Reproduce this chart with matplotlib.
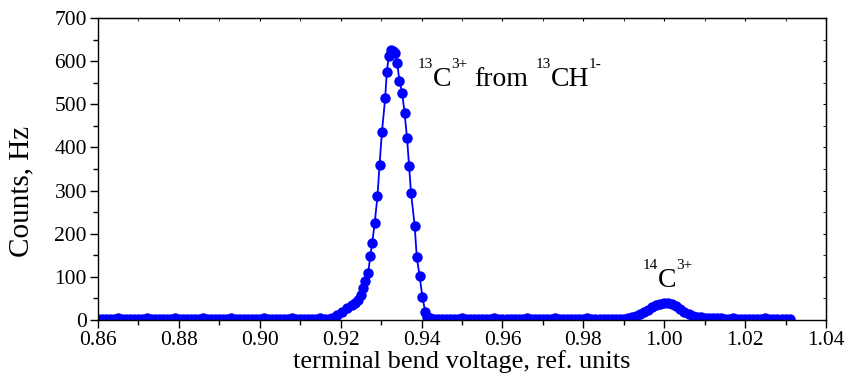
import matplotlib
matplotlib.use("Agg")
import matplotlib.pyplot as plt
import matplotlib.transforms as mtransforms
from matplotlib.ticker import MultipleLocator

plt.rcParams['font.family'] = ['Liberation Serif', 'DejaVu Serif']

# ---- data ----
base_left_x = [0.860, 0.861, 0.862, 0.863, 0.864, 0.865, 0.866, 0.867, 0.868, 0.869,
               0.870, 0.871, 0.872, 0.873, 0.874, 0.875, 0.876, 0.877, 0.878, 0.879,
               0.880, 0.881, 0.882, 0.883, 0.884, 0.885, 0.886, 0.887, 0.888, 0.889,
               0.890, 0.891, 0.892, 0.893, 0.894, 0.895, 0.896, 0.897, 0.898, 0.899,
               0.900, 0.901, 0.902, 0.903, 0.904, 0.905, 0.906, 0.907, 0.908, 0.909,
               0.910, 0.911, 0.912, 0.913, 0.914, 0.915, 0.916, 0.917]
base_left_y = [3, 3, 2, 3, 3, 4, 3, 3, 2, 3,
               3, 3, 4, 3, 2, 3, 3, 3, 3, 4,
               3, 2, 3, 3, 3, 3, 4, 3, 3, 2,
               3, 3, 3, 4, 3, 3, 2, 3, 3, 3,
               3, 4, 3, 3, 2, 3, 3, 3, 4, 3,
               3, 3, 3, 2, 3, 4, 3, 3]

peak13_x = [0.9178, 0.9190, 0.9203, 0.9215, 0.9227, 0.9236, 0.9244, 0.9250, 0.9256,
            0.9260, 0.9268, 0.9273, 0.9278, 0.9284, 0.9291, 0.9296, 0.9302, 0.9310,
            0.9314, 0.9319, 0.9325, 0.9329, 0.9334, 0.9340, 0.9345, 0.9352, 0.9358,
            0.9364, 0.9369, 0.9374, 0.9383, 0.9388, 0.9395, 0.9402, 0.9409, 0.9413,
            0.9418]
peak13_y = [4, 12, 19, 27, 35, 39, 46, 58, 73,
            91, 108, 148, 178, 224, 287, 359, 436, 514,
            575, 613, 627, 624, 620, 595, 555, 527, 479,
            423, 357, 294, 218, 147, 102, 54, 19, 8,
            5]

base_mid_x = [0.942, 0.943, 0.944, 0.945, 0.946, 0.947, 0.948, 0.949, 0.950, 0.951,
              0.952, 0.953, 0.954, 0.955, 0.956, 0.957, 0.958, 0.959, 0.960, 0.961,
              0.962, 0.963, 0.964, 0.965, 0.966, 0.967, 0.968, 0.969, 0.970, 0.971,
              0.972, 0.973, 0.974, 0.975, 0.976, 0.977, 0.978, 0.979, 0.980, 0.981,
              0.982, 0.983, 0.984, 0.985, 0.986, 0.987, 0.988, 0.989]
base_mid_y = [4, 3, 3, 3, 2, 3, 3, 3, 4, 3,
              3, 2, 3, 3, 3, 3, 4, 3, 3, 2,
              3, 3, 3, 3, 4, 3, 2, 3, 3, 3,
              3, 4, 3, 3, 2, 3, 3, 3, 3, 4,
              3, 3, 2, 3, 3, 3, 3, 3]

peak14_x = [0.990, 0.991, 0.992, 0.993, 0.994, 0.995, 0.996, 0.997, 0.998, 0.999,
            1.000, 1.001, 1.002, 1.003, 1.004, 1.005, 1.006, 1.007, 1.008, 1.009,
            1.010, 1.011, 1.012, 1.013, 1.014]
peak14_y = [3, 5, 7, 10, 13, 18, 24, 29, 34, 37,
            39, 39, 37, 33, 25, 19, 14, 10, 7, 6,
            5, 5, 4, 4, 4]

base_right_x = [1.015, 1.016, 1.017, 1.018, 1.019, 1.020, 1.021, 1.022, 1.023, 1.024,
                1.025, 1.026, 1.027, 1.028, 1.029, 1.030, 1.031]
base_right_y = [3, 3, 4, 3, 3, 2, 3, 3, 3, 3,
                4, 3, 3, 2, 3, 3, 3]

x_vals = base_left_x + peak13_x + base_mid_x + peak14_x + base_right_x
y_vals = base_left_y + peak13_y + base_mid_y + peak14_y + base_right_y

# label pieces: (text, is_superscript, space_before)
label_13_parts = [('13', True, False), ('C', False, False), ('3+', True, False),
                  ('from', False, True), ('13', True, True), ('CH', False, False),
                  ('1-', True, False)]
label_13_pos = (0.9390, 542)
label_14_parts = [('14', True, False), ('C', False, False), ('3+', True, False)]
label_14_pos = (0.9947, 76)

xlabel = 'terminal bend voltage, ref. units'
ylabel = 'Counts, Hz'

# ---- plot ----
fig = plt.figure(figsize=(8.5, 3.84), dpi=100)
ax = fig.add_axes([0.1153, 0.1667, 0.9718 - 0.1153, 0.9531 - 0.1667])

ax.plot(x_vals, y_vals, '-o', color='#0000FF', markersize=7.5, linewidth=1.3,
        markeredgewidth=0)

ax.set_xlim(0.86, 1.04)
ax.set_ylim(0, 700)
ax.xaxis.set_major_locator(MultipleLocator(0.02))
ax.xaxis.set_minor_locator(MultipleLocator(0.01))
ax.yaxis.set_major_locator(MultipleLocator(100))
ax.yaxis.set_minor_locator(MultipleLocator(50))
ax.xaxis.set_major_formatter(plt.FuncFormatter(lambda v, p: f'{v:.2f}'))

ax.tick_params(axis='both', which='major', direction='out', length=6, width=1,
               labelsize=15.5, pad=2)
ax.tick_params(axis='both', which='minor', direction='out', length=3.5, width=1)
for sp in ax.spines.values():
    sp.set_linewidth(1.0)

axt = ax.secondary_xaxis('top')
axt.xaxis.set_major_locator(MultipleLocator(0.02))
axt.xaxis.set_minor_locator(MultipleLocator(0.01))
axt.tick_params(which='both', direction='in', length=2.5, labeltop=False)
axr = ax.secondary_yaxis('right')
axr.yaxis.set_major_locator(MultipleLocator(100))
axr.yaxis.set_minor_locator(MultipleLocator(50))
axr.tick_params(which='both', direction='in', length=2.5, labelright=False)

ax.set_xlabel(xlabel, fontsize=19, labelpad=0)
ax.set_ylabel(ylabel, fontsize=21)
ax.yaxis.set_label_coords(-0.088, 0.427)

MAIN_SIZE = 20
SUP_SIZE = 11
SUP_RISE = 18   # pixels
SPACE = 7       # pixels


def rich_label(x, y, parts):
    renderer = fig.canvas.get_renderer()
    dx = 0.0
    for text, sup, space in parts:
        if space:
            dx += SPACE
        tr = mtransforms.offset_copy(ax.transData, fig=fig, x=dx,
                                     y=SUP_RISE if sup else 0, units='dots')
        t = ax.text(x, y, text, fontsize=SUP_SIZE if sup else MAIN_SIZE,
                    transform=tr, ha='left', va='baseline')
        dx += t.get_window_extent(renderer).width


rich_label(*label_13_pos, label_13_parts)
rich_label(*label_14_pos, label_14_parts)

fig.savefig('out.png', dpi=100)
